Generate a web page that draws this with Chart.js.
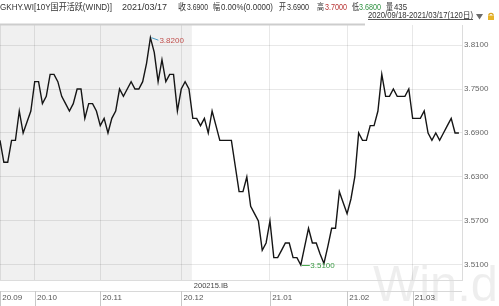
<!DOCTYPE html>
<html>
<head>
<meta charset="utf-8">
<script src="https://cdn.jsdelivr.net/npm/chart.js@4.4.1/dist/chart.umd.min.js"></script>
<style>
  html, body { margin: 0; padding: 0; background: #fff; overflow: hidden; }
  canvas { display: block; }
</style>
</head>
<body>
<canvas id="yieldChart" width="499" height="306"></canvas>
<script>
// month ticks: label + index of the first trading day in that month
const monthLabels = ['20.09', '20.10', '20.11', '20.12', '21.01', '21.02', '21.03'];
const monthStart = [0, 9, 26, 47, 70, 90, 107];
const yTicks = [3.51, 3.57, 3.63, 3.69, 3.75, 3.81];

// 120 trading days, 2020/09/18 - 2021/03/17
const yields = [
  3.68, 3.65, 3.65, 3.68, 3.68, 3.72, 3.69, 3.705, 3.72, 3.76,
  3.76, 3.73, 3.74, 3.77, 3.77, 3.76, 3.74, 3.73, 3.72, 3.73,
  3.75, 3.75, 3.71, 3.73, 3.73, 3.72, 3.70, 3.71, 3.69, 3.71,
  3.72, 3.75, 3.74, 3.75, 3.76, 3.75, 3.75, 3.76, 3.785, 3.82,
  3.80, 3.76, 3.79, 3.76, 3.77, 3.77, 3.72, 3.75, 3.76, 3.75,
  3.71, 3.71, 3.70, 3.71, 3.69, 3.72, 3.70, 3.68, 3.68, 3.68,
  3.68, 3.645, 3.61, 3.61, 3.63, 3.59, 3.58, 3.57, 3.53, 3.54,
  3.57, 3.52, 3.52, 3.53, 3.54, 3.54, 3.52, 3.52, 3.51, 3.535,
  3.56, 3.54, 3.54, 3.525, 3.512, 3.535, 3.56, 3.56, 3.61, 3.595,
  3.58, 3.60, 3.63, 3.69, 3.68, 3.68, 3.70, 3.70, 3.72, 3.77,
  3.74, 3.74, 3.75, 3.74, 3.74, 3.74, 3.75, 3.71, 3.71, 3.71,
  3.72, 3.69, 3.68, 3.69, 3.68, 3.69, 3.70, 3.71, 3.69, 3.69
];

// active bond switched to this contract at this index
const switchIndex = 50;
const switchLabel = '200215.IB';

// header quote line: text, left, right, colour
const headerItems = [
  ['GKHY.WI[10Y国开活跃(WIND)]', 0, 112, '#333'],
  ['2021/03/17', 122, 167, '#333'],
  ['收', 178, 186, '#333'], ['3.6900', 187, 208, '#333'],
  ['幅', 213, 220, '#333'], ['0.00%(0.0000)', 221, 273, '#333'],
  ['开', 279, 286, '#333'], ['3.6900', 287, 309, '#333'],
  ['高', 317, 324, '#333'], ['3.7000', 325, 347, '#b83434'],
  ['低', 352, 359, '#333'], ['3.6800', 359, 381, '#2f9342'],
  ['量', 386, 393, '#333'], ['435', 394, 407, '#333']
];
const rangeText = '2020/09/18-2021/03/17(120日)';

const FONT = '"Liberation Sans", Arial, "Noto Sans CJK SC", sans-serif';

const windDecor = {
  id: 'windDecor',
  beforeDraw(chart) {
    const { ctx, chartArea: a, scales: { x } } = chart;
    ctx.save();
    ctx.fillStyle = '#fff';
    ctx.fillRect(0, 0, chart.width, chart.height);
    // old contract period shaded
    const sx = x.getPixelForValue(switchIndex) - 1;
    ctx.fillStyle = '#f0f0f0';
    ctx.fillRect(a.left, a.top, sx - a.left, a.bottom - a.top);
    // watermark
    ctx.font = '50px ' + FONT;
    ctx.fillStyle = 'rgba(0,0,0,0.065)';
    ctx.textBaseline = 'alphabetic';
    ctx.fillText('Win.d', 373, 301, 125);
    ctx.restore();
  },
  afterDatasetsDraw(chart) {
    const { ctx, scales: { x, y } } = chart;
    const hi = yields.indexOf(Math.max(...yields));
    const lo = yields.indexOf(Math.min(...yields));
    ctx.save();
    ctx.font = '8px ' + FONT;
    ctx.textBaseline = 'middle';
    ctx.lineWidth = 1;

    let px = x.getPixelForValue(hi), py = y.getPixelForValue(yields[hi]);
    ctx.strokeStyle = '#4a9cc4';
    ctx.beginPath(); ctx.moveTo(px + 1, py); ctx.lineTo(px + 8, py + 2.5); ctx.stroke();
    ctx.fillStyle = '#c0504d';
    ctx.fillText(yields[hi].toFixed(4), px + 9, py + 3);

    px = x.getPixelForValue(lo); py = y.getPixelForValue(yields[lo]);
    ctx.strokeStyle = '#45a84d';
    ctx.beginPath(); ctx.moveTo(px + 1, py + 0.5); ctx.lineTo(px + 9, py + 0.5); ctx.stroke();
    ctx.fillStyle = '#3c9a45';
    ctx.fillText(yields[lo].toFixed(4), px + 9.5, py + 0.5);
    ctx.restore();
  },
  afterDraw(chart) {
    const { ctx, chartArea: a, scales: { x } } = chart;
    ctx.save();

    // quote line
    ctx.font = '9px ' + FONT;
    ctx.textBaseline = 'alphabetic';
    headerItems.forEach(([t, x0, x1, c]) => {
      ctx.fillStyle = c;
      ctx.fillText(t, x0, 10, x1 - x0);
    });

    // date range link, arrow and lock
    ctx.fillStyle = '#333';
    ctx.font = '8.5px ' + FONT;
    ctx.fillText(rangeText, 368, 18, 105);
    ctx.strokeStyle = '#555';
    ctx.beginPath(); ctx.moveTo(368, 19.5); ctx.lineTo(473, 19.5); ctx.stroke();
    ctx.fillStyle = '#6a6a6a';
    ctx.beginPath(); ctx.moveTo(476, 14); ctx.lineTo(483, 14); ctx.lineTo(479.5, 19.5); ctx.closePath(); ctx.fill();
    ctx.strokeStyle = '#d9a421';
    ctx.lineWidth = 1.2;
    ctx.beginPath(); ctx.arc(491, 15.5, 2.2, Math.PI, 0); ctx.stroke();
    ctx.fillStyle = '#e7b42a';
    ctx.fillRect(488, 15.5, 6, 4.5);

    // separator under header
    ctx.fillStyle = '#cdcdcd';
    ctx.fillRect(0, 23.5, 365, 2);

    // contract strip and label row
    ctx.fillStyle = '#444';
    ctx.font = '7.5px ' + FONT;
    ctx.textBaseline = 'middle';
    ctx.fillText(switchLabel, x.getPixelForValue(switchIndex) + 1, 286);
    ctx.strokeStyle = '#d8d8d8';
    ctx.lineWidth = 1;
    ctx.beginPath(); ctx.moveTo(a.left, 291.5); ctx.lineTo(a.right, 291.5); ctx.stroke();
    ctx.strokeStyle = '#c8c8c8';
    monthStart.forEach(i => {
      const px = Math.round(x.getPixelForValue(i)) + 0.5;
      ctx.beginPath(); ctx.moveTo(px, 291); ctx.lineTo(px, 306); ctx.stroke();
    });
    ctx.restore();
  }
};

new Chart(document.getElementById('yieldChart').getContext('2d'), {
  type: 'line',
  data: {
    datasets: [{
      data: yields.map((v, i) => ({ x: i, y: v })),
      borderColor: '#151515',
      borderWidth: 1.4,
      pointRadius: 0,
      tension: 0,
      fill: false
    }]
  },
  options: {
    responsive: false,
    animation: false,
    layout: { padding: { top: 25, left: 0, right: 0, bottom: 0 } },
    plugins: { legend: { display: false }, tooltip: { enabled: false } },
    scales: {
      x: {
        type: 'linear',
        min: 0,
        max: 119.8,
        afterBuildTicks: s => { s.ticks = monthStart.map(v => ({ value: v })); },
        afterFit: s => { s.height = 26; s.paddingLeft = 0; s.paddingRight = 0; },
        grid: { color: 'rgba(0,0,0,0.09)', drawTicks: false },
        border: { display: true, color: '#dcdcdc' },
        ticks: {
          autoSkip: false,
          maxRotation: 0,
          align: 'start',
          padding: 13,
          color: '#555',
          font: { size: 8, family: FONT },
          callback: (v, i) => ' ' + monthLabels[i]
        }
      },
      y: {
        position: 'right',
        min: 3.4895,
        max: 3.8373,
        afterBuildTicks: s => { s.ticks = yTicks.map(v => ({ value: v })); },
        afterFit: s => { s.width = 37; s.paddingTop = 0; s.paddingBottom = 0; },
        grid: { color: 'rgba(0,0,0,0.09)', drawTicks: false },
        border: { display: true, color: '#dcdcdc' },
        ticks: {
          padding: 2,
          color: '#666',
          font: { size: 8, family: FONT },
          callback: v => v.toFixed(4)
        }
      }
    }
  },
  plugins: [windDecor]
});
</script>
</body>
</html>
